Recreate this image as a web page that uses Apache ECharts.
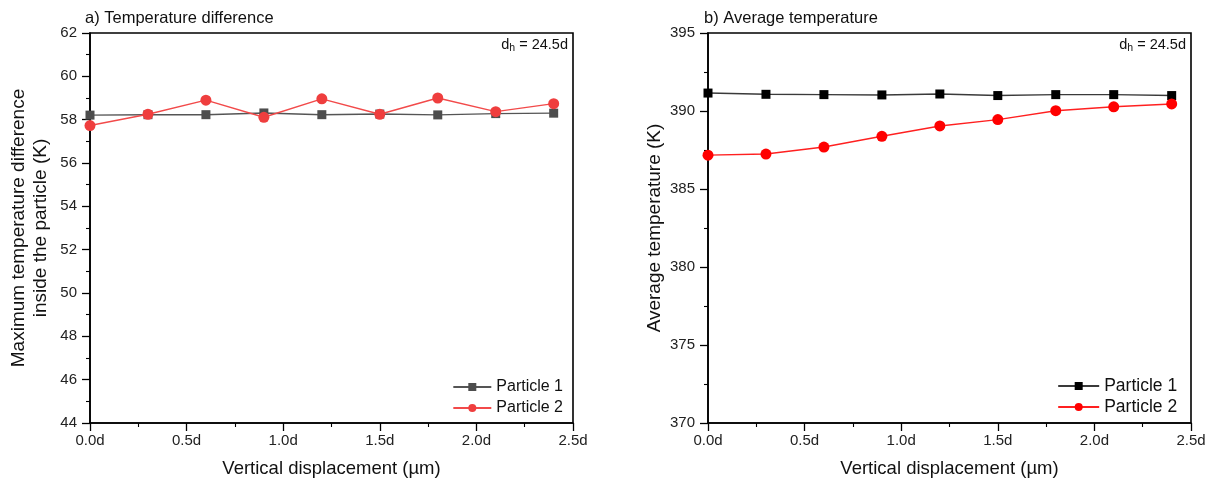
<!DOCTYPE html>
<html>
<head>
<meta charset="utf-8">
<script src="https://cdn.jsdelivr.net/npm/echarts@6/dist/echarts.min.js"></script>
<style>
  html, body { margin: 0; padding: 0; background: #fff; }
  #chart { width: 1215px; height: 488px; }
</style>
</head>
<body>
<div id="chart"></div>
<script>
// Vertical displacement of the particle, in multiples of d
const displacement = [0, 0.3, 0.6, 0.9, 1.2, 1.5, 1.8, 2.1, 2.4];

// a) Maximum temperature difference inside the particle (K)
const tempDiffP1 = [58.21, 58.23, 58.23, 58.31, 58.23, 58.26, 58.22, 58.28, 58.30];
const tempDiffP2 = [57.73, 58.25, 58.90, 58.11, 58.96, 58.25, 59.00, 58.37, 58.74];

// b) Average temperature (K)
const avgTempP1 = [391.15, 391.07, 391.05, 391.03, 391.09, 390.99, 391.05, 391.05, 390.99];
const avgTempP2 = [387.17, 387.24, 387.69, 388.38, 389.04, 389.45, 390.02, 390.27, 390.45];

const seriesNames = ['Particle 1', 'Particle 2'];
const panelTitles = ['a) Temperature difference', 'b) Average temperature'];
const annotation = ['d', 'h', ' = 24.5d'];

const FONT = '"Liberation Sans", Arial, sans-serif';
const pairs = ys => displacement.map((x, i) => [x, ys[i]]);

const GRID_TOP = 33, GRID_H = 390, GRID_W = 483;
const grids = [
  { left: 90, top: GRID_TOP, width: GRID_W, height: GRID_H },
  { left: 708, top: GRID_TOP, width: GRID_W, height: GRID_H }
];
const rightEdge = [1215 - 90 - GRID_W, 1215 - 708 - GRID_W];

const tickStyle = { show: true, inside: false, length: 8, lineStyle: { color: '#000', width: 1.3 } };
const minorStyle = { show: true, splitNumber: 2, length: 4, lineStyle: { color: '#000', width: 1.1 } };

function xAxis(gridIndex) {
  return {
    type: 'value', gridIndex, min: 0, max: 2.5, interval: 0.5,
    name: 'Vertical displacement (\u00b5m)', nameLocation: 'middle', nameGap: 36,
    nameTextStyle: { fontFamily: FONT, fontSize: 18.5, color: '#111' },
    axisLine: { show: true, onZero: false, lineStyle: { color: '#000', width: 1.6 } },
    axisTick: tickStyle,
    minorTick: minorStyle,
    axisLabel: { fontFamily: FONT, fontSize: 15, color: '#222', margin: 10,
      formatter: v => v.toFixed(1) + 'd' },
    splitLine: { show: false }
  };
}

function yAxis(gridIndex, min, max, interval, name, nameGap) {
  return {
    type: 'value', gridIndex, min, max, interval,
    name, nameLocation: 'middle', nameGap,
    nameTextStyle: { fontFamily: FONT, fontSize: 19, color: '#111', lineHeight: 22 },
    axisLine: { show: true, onZero: false, lineStyle: { color: '#000', width: 1.6 } },
    axisTick: tickStyle,
    minorTick: minorStyle,
    axisLabel: { fontFamily: FONT, fontSize: 15, color: '#222', margin: 13 },
    splitLine: { show: false }
  };
}

function lineSeries(name, ys, axisIndex, lineColor, markColor, symbol, size) {
  return {
    name, type: 'line', xAxisIndex: axisIndex, yAxisIndex: axisIndex,
    data: pairs(ys), symbol, symbolSize: size, showSymbol: true,
    lineStyle: { color: lineColor, width: 1.4 },
    itemStyle: { color: markColor },
    emphasis: { disabled: true }, animation: false, z: symbol === 'circle' ? 3 : 2
  };
}

function legend(right, top, gap, names, fontSize, itemWidth) {
  return {
    orient: 'vertical', right, top, itemGap: gap, itemWidth, itemHeight: 10,
    data: names.map(n => ({ name: n })), selectedMode: false,
    textStyle: { fontFamily: FONT, fontSize, color: '#111' }
  };
}

function dhLabel(right) {
  return {
    type: 'text', right, top: 37,
    style: {
      text: '{a|' + annotation[0] + '}{s|' + annotation[1] + '}{a|' + annotation[2] + '}',
      rich: {
        a: { fontFamily: FONT, fontSize: 14.5, fill: '#111' },
        s: { fontFamily: FONT, fontSize: 10.5, fill: '#111', padding: [8, 0, 0, 0] }
      }
    }
  };
}

const titleStyle = { fontFamily: FONT, fontSize: 16.5, fontWeight: 'normal', color: '#111' };

const chart = echarts.init(document.getElementById('chart'), null, { renderer: 'canvas' });
chart.setOption({
  backgroundColor: '#fff',
  animation: false,
  grid: grids.map(g => Object.assign({ show: true, borderColor: '#000', borderWidth: 1.6,
    backgroundColor: 'transparent' }, g)),
  xAxis: [xAxis(0), xAxis(1)],
  yAxis: [
    yAxis(0, 44, 62, 2, 'Maximum temperature difference\ninside the particle (K)', 38),
    yAxis(1, 370, 395, 5, 'Average temperature (K)', 41)
  ],
  title: [
    { text: panelTitles[0], left: 80, top: 5, textStyle: titleStyle },
    { text: panelTitles[1], left: 699, top: 5, textStyle: titleStyle }
  ],
  // the second panel's series carry a trailing space so each legend lists its own pair
  legend: [
    legend(rightEdge[0] + 5, 374, 5, seriesNames, 16, 38),
    legend(rightEdge[1] + 4, 372, 3, seriesNames.map(n => n + ' '), 17.5, 41)
  ],
  graphic: [dhLabel(rightEdge[0] + 5), dhLabel(rightEdge[1] + 5)],
  series: [
    lineSeries(seriesNames[0], tempDiffP1, 0, '#555555', '#4d4d4d', 'rect', 9),
    lineSeries(seriesNames[1], tempDiffP2, 0, '#f24a4a', '#ef3e3e', 'circle', 11),
    lineSeries(seriesNames[0] + ' ', avgTempP1, 1, '#3a3a3a', '#000000', 'rect', 9),
    lineSeries(seriesNames[1] + ' ', avgTempP2, 1, '#ff2020', '#ff0000', 'circle', 11)
  ]
});
</script>
</body>
</html>
